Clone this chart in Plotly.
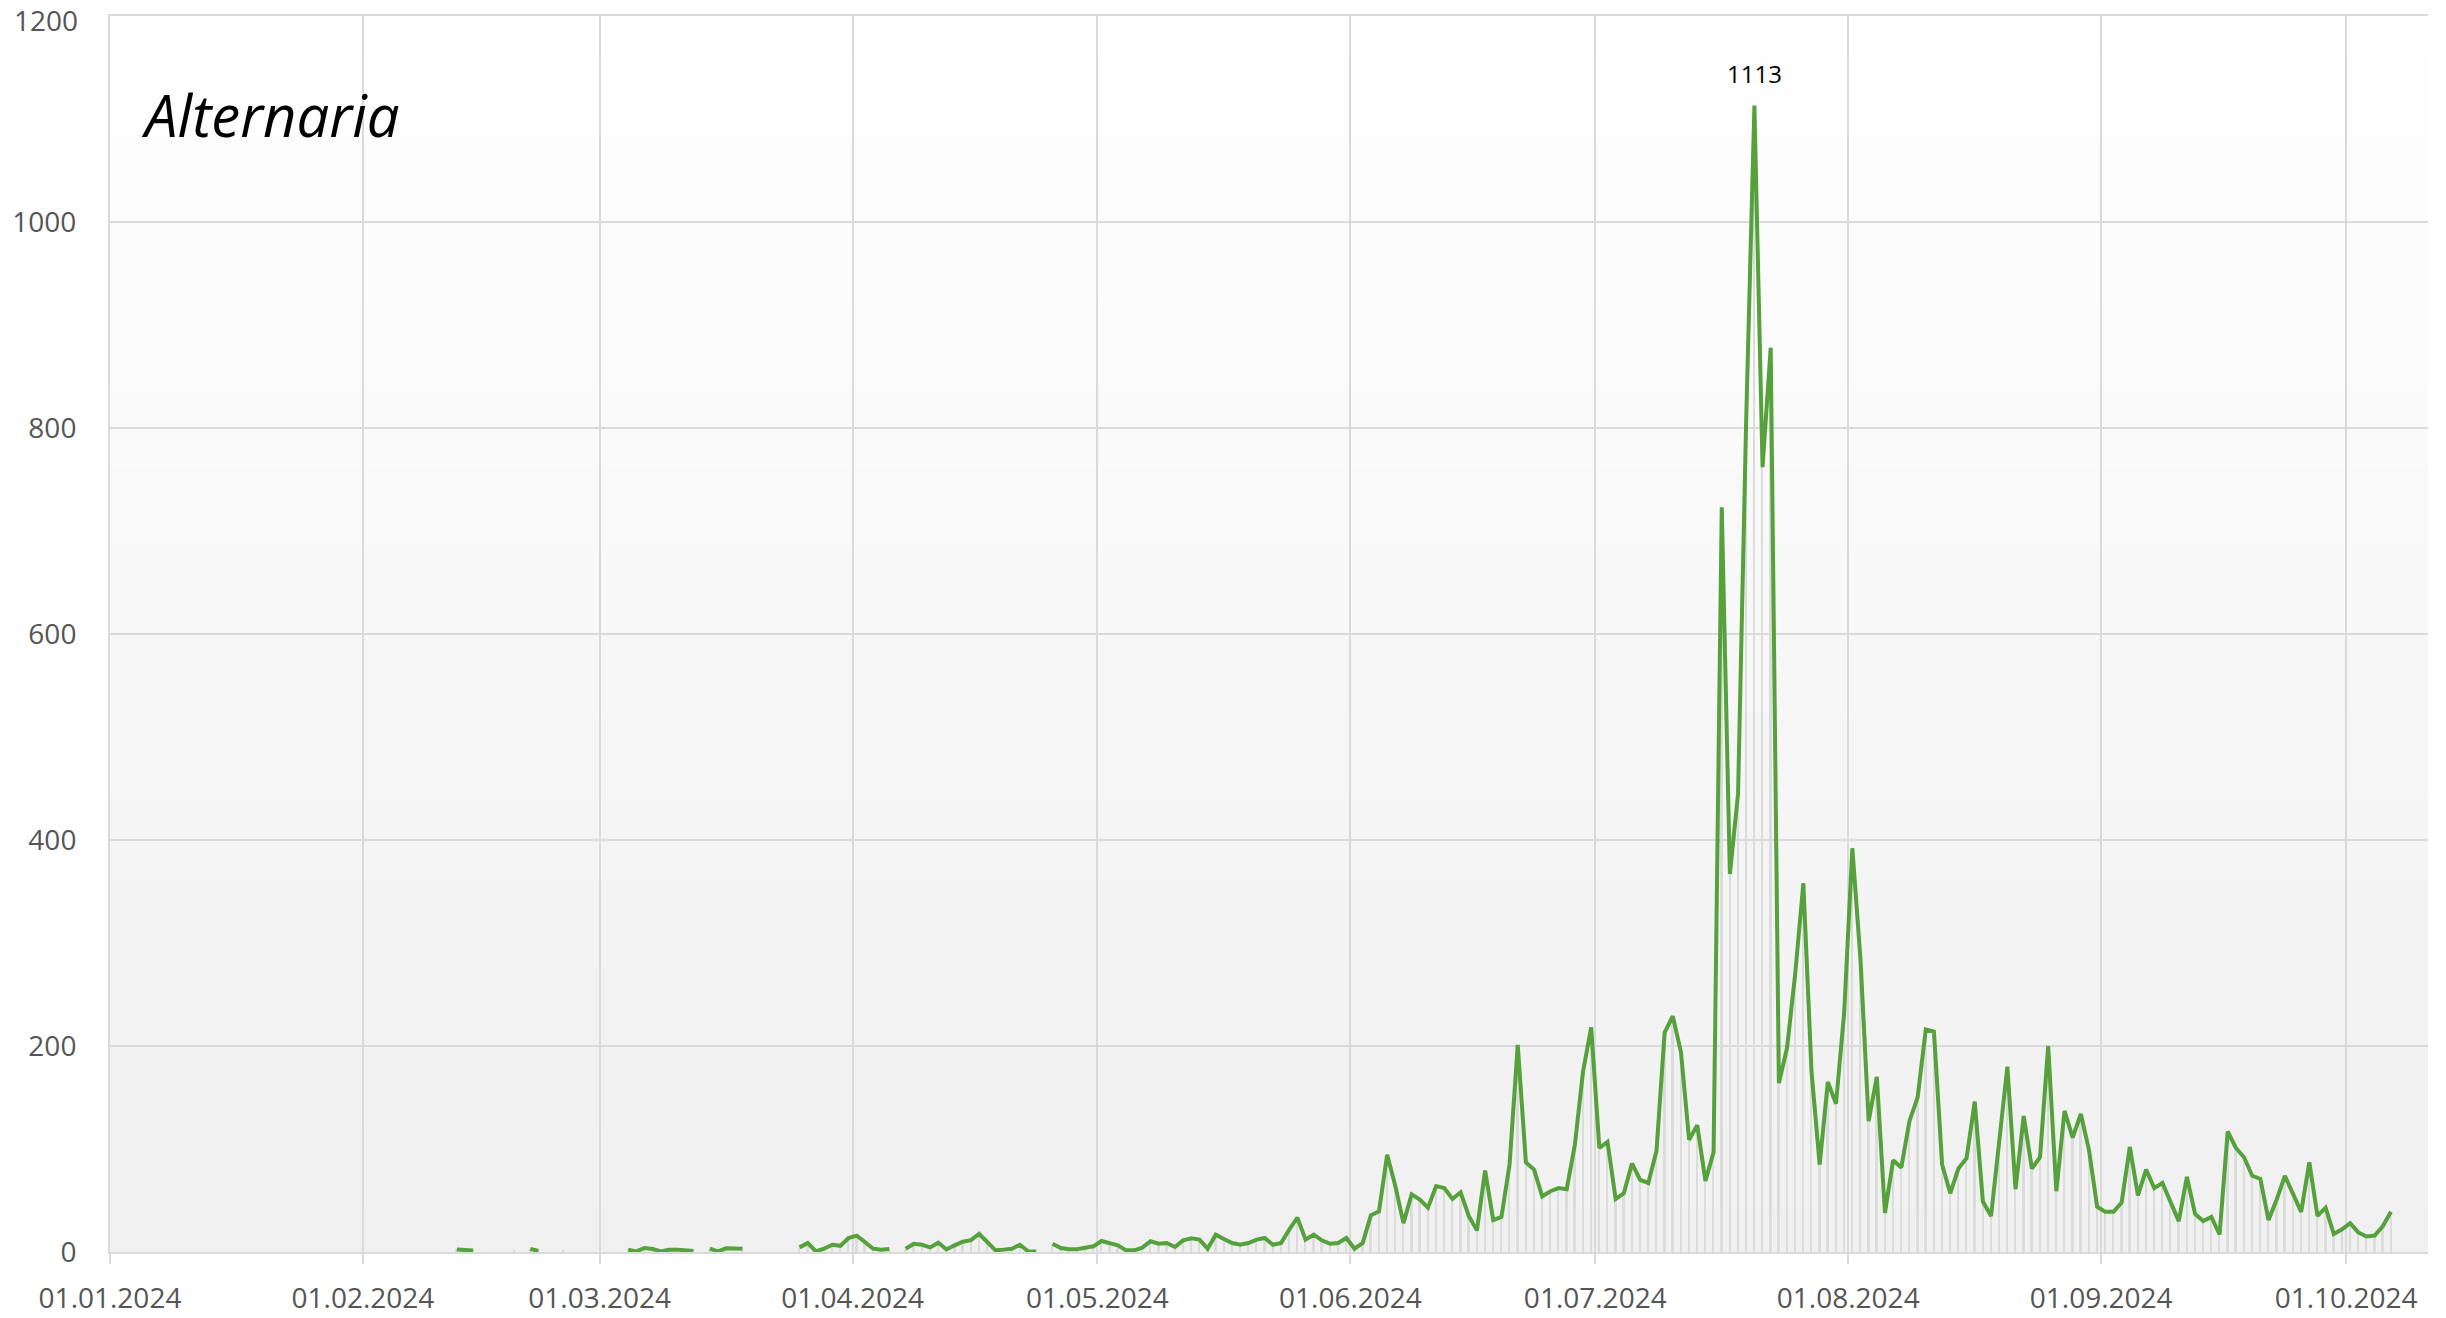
import plotly.graph_objects as go
import pandas as pd

# ---- data: daily Alternaria counts, 2024 (None = no measurement) ----
jan_values = [None] * 31
feb_values = [None] * 11 + [2.5, 2, 1.5, None, None, None, None, 1, None, 3, 1, None, None, 1,
                            None, None, None, None]
mar_values = [None, None, None, 2.3, 0.6, 3.9, 2.9, 0.6, 2.3, 2.3, 1.3, 1, None, 3.2, 0.6, 3.6,
              3.2, 3.2, None, None, None, None, None, None, 4.5, 8.7, 0.6, 3.2, 7, 6, 13.6]
apr_values = [15.9, 9.7, 3.2, 2.3, 2.9, None, 3.2, 8, 7, 4.5, 9, 2.5, 6.5, 10, 11.5, 17.5, 9.7,
              1.6, 2.3, 3.2, 7, 0.6, 0.6, None, 8, 3.9, 2.6, 2.6, 4.2, 5.5]
may_values = [10.7, 8.7, 6.5, 1.6, 1.6, 4.2, 10.4, 8, 8.7, 4.9, 11.3, 13.3, 12, 3.2, 16.8, 12.6,
              8.7, 7, 8.7, 12, 13.6, 7, 8.7, 21.7, 33.3, 12, 16.8, 11.3, 8, 8.7, 13.6]
jun_values = [3.2, 8.7, 35.6, 39.5, 94.5, 64, 28, 56, 51, 43, 64, 62, 51.5, 58, 35, 21, 79, 31,
              34, 85, 201, 87, 80, 54, 59, 62, 61, 104, 175, 218]
jul_values = [101, 107, 51.5, 57, 86, 70, 67, 98, 213, 229, 194, 109, 123, 69, 97, 723, 367, 445,
              810, 1113, 762, 878, 164, 198, 270, 358, 175, 85, 165, 144, 232]
aug_values = [392, 284, 127, 170, 38, 89, 82, 127, 150, 216, 214, 85, 57, 81, 91, 146, 49, 35,
              112, 180, 61, 132, 81, 92, 200, 59, 137, 111, 134, 99, 44]
sep_values = [39, 39, 48, 102, 55, 80, 62, 67, 49, 30, 73, 37, 30, 34, 17, 117, 101, 92, 74, 71,
              31, 51, 74, 56, 39, 87, 35, 43, 17.5, 22]
oct_values = [28, 19, 15, 16, 25, 39]

values = (jan_values + feb_values + mar_values + apr_values + may_values + jun_values
          + jul_values + aug_values + sep_values + oct_values)
dates = pd.date_range("2024-01-01 12:00", periods=len(values), freq="D")

tick_vals = pd.date_range("2024-01-01", "2024-10-01", freq="MS")
tick_text = [d.strftime("%d.%m.%Y") for d in tick_vals]
y_ticks = [0, 200, 400, 600, 800, 1000, 1200]
y_top = y_ticks[-1]
# the top label is drawn as an annotation (nudged down so it stays inside the page)
y_tick_text = [str(v) for v in y_ticks[:-1]] + [""]

peak_value = max(v for v in values if v is not None)
peak_date = dates[values.index(peak_value)]

GREEN = "#55a13b"
GRID = "#dadada"
FONT = "Open Sans"
TICK_FONT = dict(family=FONT, size=28, color="#555555")

fig = go.Figure()
fig.add_trace(go.Bar(
    x=dates, y=values, width=86400000 * 0.22,
    marker=dict(color="#dcdcdc", line=dict(width=0)),
    hoverinfo="skip", showlegend=False,
))
fig.add_trace(go.Scatter(
    x=dates, y=values, mode="lines", connectgaps=False,
    line=dict(color=GREEN, width=4),
    showlegend=False,
))

# gradient plot background
n_steps = 90
shapes = []
for i in range(n_steps):
    t = (i + 0.5) / n_steps  # 0 at top, 1 at bottom
    c = round(255 - t * 15)
    shapes.append(dict(
        type="rect", xref="paper", yref="paper", layer="below",
        x0=0, x1=1, y0=1 - (i + 1) / n_steps, y1=1 - i / n_steps + 0.001,
        fillcolor=f"rgb({c},{c},{c})", line=dict(width=0),
    ))

fig.update_layout(
    width=2446, height=1318,
    margin=dict(l=110, r=18, t=16, b=66),
    paper_bgcolor="white", plot_bgcolor="white",
    bargap=0, shapes=shapes,
    font=dict(family=FONT, color="#555555", size=26),
    annotations=[
        dict(text="<i>Alternaria</i>", xref="paper", yref="paper",
             x=0.0125, y=0.9202, xanchor="left", yanchor="middle",
             showarrow=False, font=dict(family=FONT, size=58, color="#000000")),
        dict(text=str(peak_value), x=peak_date, y=peak_value, xref="x", yref="y",
             showarrow=False, yshift=32, yanchor="middle",
             font=dict(family=FONT, size=24, color="#000000")),
        dict(text=str(y_top), xref="paper", yref="y", x=-0.0133, y=y_top,
             xanchor="right", yanchor="middle", yshift=-4, showarrow=False,
             borderpad=0, font=TICK_FONT),
    ],
)
fig.update_xaxes(
    type="date", automargin=False,
    range=["2024-01-01", "2024-10-11 01:00"],
    tickvals=tick_vals, ticktext=tick_text,
    showgrid=True, gridcolor=GRID, gridwidth=2,
    ticks="outside", ticklen=10, tickcolor=GRID, tickwidth=2,
    ticklabelstandoff=10,
    showline=True, mirror=True, linecolor=GRID, linewidth=2,
    zeroline=False,
    tickfont=TICK_FONT,
)
fig.update_yaxes(
    automargin=False,
    range=[0, y_top], tickvals=y_ticks, ticktext=y_tick_text,
    showgrid=True, gridcolor=GRID, gridwidth=2,
    showline=True, linecolor=GRID, linewidth=2,
    zeroline=False, ticks="", ticklabelstandoff=26,
    tickfont=TICK_FONT,
)

fig.write_html("out.html", config={"displayModeBar": False},
               post_script="document.body.style.margin='0';")
